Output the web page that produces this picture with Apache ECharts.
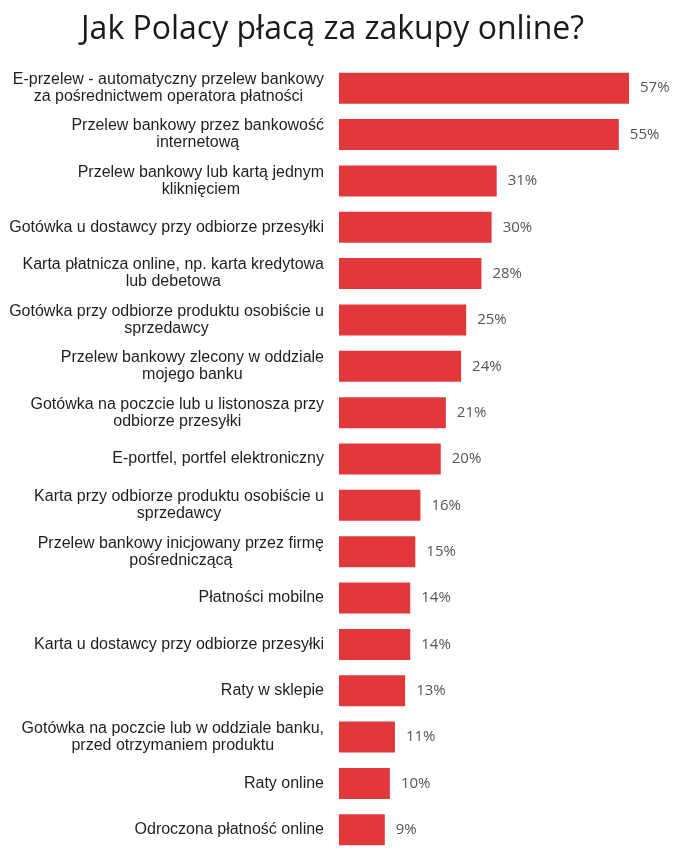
<!DOCTYPE html>
<html>
<head>
<meta charset="utf-8">
<script src="https://cdn.jsdelivr.net/npm/echarts@6/dist/echarts.min.js"></script>
<style>
html,body{margin:0;padding:0;background:#fff;}
#chart{width:680px;height:856px;}
</style>
</head>
<body>
<div id="chart"></div>
<script>
const titleText = 'Jak Polacy płacą za zakupy online?';
const categories = [
  'E-przelew - automatyczny przelew bankowy\nza pośrednictwem operatora płatności',
  'Przelew bankowy przez bankowość\ninternetową',
  'Przelew bankowy lub kartą jednym\nkliknięciem',
  'Gotówka u dostawcy przy odbiorze przesyłki',
  'Karta płatnicza online, np. karta kredytowa\nlub debetowa',
  'Gotówka przy odbiorze produktu osobiście u\nsprzedawcy',
  'Przelew bankowy zlecony w oddziale\nmojego banku',
  'Gotówka na poczcie lub u listonosza przy\nodbiorze przesyłki',
  'E-portfel, portfel elektroniczny',
  'Karta przy odbiorze produktu osobiście u\nsprzedawcy',
  'Przelew bankowy inicjowany przez firmę\npośredniczącą',
  'Płatności mobilne',
  'Karta u dostawcy przy odbiorze przesyłki',
  'Raty w sklepie',
  'Gotówka na poczcie lub w oddziale banku,\nprzed otrzymaniem produktu',
  'Raty online',
  'Odroczona płatność online'
];
const values = [57, 55, 31, 30, 28, 25, 24, 21, 20, 16, 15, 14, 14, 13, 11, 10, 9];

const chart = echarts.init(document.getElementById('chart'));
chart.setOption({
  backgroundColor: '#ffffff',
  animation: false,
  title: {
    text: titleText,
    left: 76,
    top: 9,
    textStyle: {
      fontFamily: 'Open Sans',
      fontSize: 32,
      fontWeight: 'normal',
      color: '#1a1a1a'
    }
  },
  grid: { left: 339, right: 51, top: 65, bottom: 3, containLabel: false },
  xAxis: {
    type: 'value',
    min: 0,
    max: 57,
    show: false
  },
  yAxis: {
    type: 'category',
    data: categories,
    inverse: true,
    axisLine: { show: false },
    axisTick: { show: false },
    splitLine: { show: false },
    axisLabel: {
      margin: 15,
      align: 'right',
      fontFamily: 'Liberation Sans',
      fontSize: 16,
      lineHeight: 17,
      color: '#1f1f1f',
      formatter: function (v) {
        return v.split('\n').map(function (l) { return '{c|' + l + '}'; }).join('\n');
      },
      rich: {
        c: {
          align: 'center',
          fontFamily: 'Liberation Sans',
          fontSize: 16,
          lineHeight: 17,
          color: '#1f1f1f'
        }
      }
    }
  },
  series: [{
    type: 'bar',
    data: values,
    barWidth: 31,
    itemStyle: { color: '#e2383b' },
    label: {
      show: true,
      position: 'right',
      distance: 11,
      formatter: '{c}%',
      fontFamily: 'Open Sans',
      fontSize: 15,
      color: '#555555'
    }
  }]
});
</script>
</body>
</html>
